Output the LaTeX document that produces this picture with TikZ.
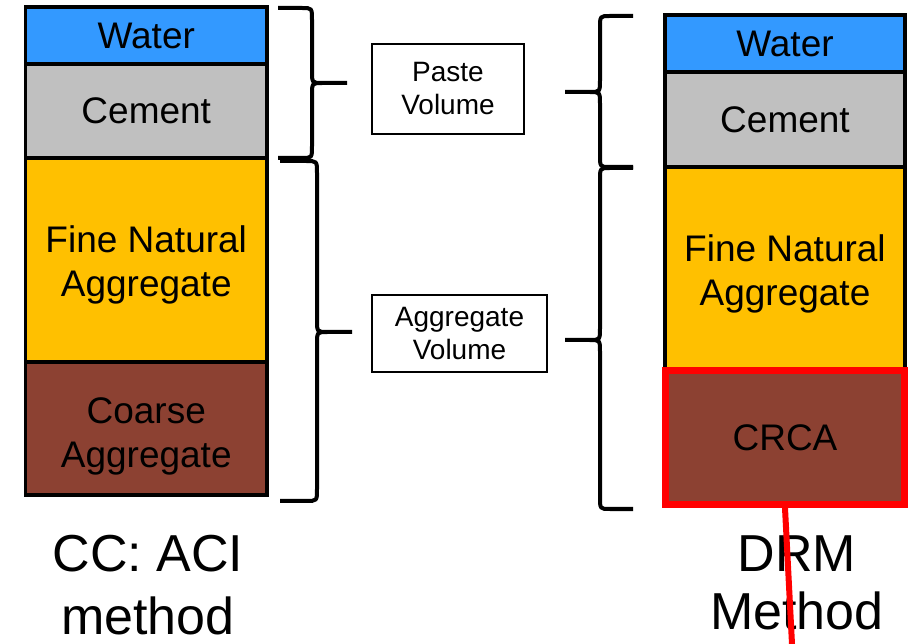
\documentclass[tikz,border=0pt]{standalone}
\usepackage{fontspec}
\setmainfont{Liberation Sans}
\definecolor{waterc}{HTML}{3399FF}
\definecolor{cementc}{HTML}{C0C0C0}
\definecolor{finec}{HTML}{FFC000}
\definecolor{coarsec}{HTML}{8C4132}
\definecolor{redc}{HTML}{FF0000}
\tikzset{
  layer/.style={draw=black, line width=3.5pt, inner sep=0pt, align=center,
    font=\fontsize{37}{44}\selectfont},
  lbl/.style={draw=black, line width=1.5pt, inner sep=0pt, align=center,
    font=\fontsize{28}{33}\selectfont},
  capt/.style={inner sep=0pt, align=center},
  bracestyle/.style={draw=black, line width=4pt, line join=miter},
}
\newcommand\lowr[1]{\rule{0pt}{#1}}
\newcommand\mybrace[6]{% x0 xv xt y0 ym y1
  \draw[bracestyle] (#1,#4) -- ({#2+(#1-#2)*0.3},#4) .. controls (#2,#4) .. (#2,#4+12)
    -- (#2,#5-12) .. controls (#2,#5) .. ({#2+(#3-#2)*0.3},#5) -- (#3,#5)
    -- ({#2+(#3-#2)*0.3},#5) .. controls (#2,#5) .. (#2,#5+12)
    -- (#2,#6-12) .. controls (#2,#6) .. ({#2+(#1-#2)*0.3},#6) -- (#1,#6);}
\begin{document}
\begin{tikzpicture}[x=1pt,y=-1pt]
\useasboundingbox (0,0) rectangle (922,644);
% left column
\node[layer, fill=waterc, minimum width=241.5pt, minimum height=57pt] (lw) at (146.25,35.5) {Water};
\node[layer, fill=cementc, minimum width=241.5pt, minimum height=94pt] (lc) at (146.25,111) {Cement};
\node[layer, fill=finec, minimum width=241.5pt, minimum height=204pt] (lf) at (146.25,260) {\lowr{37.5pt}Fine Natural\\Aggregate};
\node[layer, fill=coarsec, minimum width=241.5pt, minimum height=133pt] (lg) at (146.25,428.5) {\lowr{42.5pt}Coarse\\Aggregate};
% right column
\node[layer, fill=waterc, minimum width=240pt, minimum height=57pt] (rw) at (785,43.5) {Water};
\node[layer, fill=cementc, minimum width=240pt, minimum height=95pt] (rc) at (785,119.5) {Cement};
\node[layer, fill=finec, minimum width=240pt, minimum height=203pt] (rf) at (785,268.5) {\lowr{37.5pt}Fine Natural\\Aggregate};
\node[layer, draw=redc, line width=7pt, fill=coarsec, minimum width=239pt, minimum height=134pt] (rg) at (785,437.5) {CRCA};
% labels
\node[lbl, minimum width=152pt, minimum height=90pt] (paste) at (448,89) {Paste\\Volume};
\node[lbl, minimum width=175pt, minimum height=77pt] (aggr) at (459.5,333.5) {Aggregate\\Volume};
% braces
\mybrace{278}{312}{347}{8}{83}{158}
\mybrace{280}{317}{352}{161}{332}{501}
\mybrace{633}{600}{565}{16}{92}{167}
\mybrace{633}{600}{565}{168}{340}{509}
% captions
\node[capt, font=\fontsize{52}{63}\selectfont] (cc) at (148,585) {CC: ACI\\method};
\node[capt, font=\fontsize{52}{58}\selectfont] (drm) at (797,583) {DRM\\Method};
% red line
\coordinate (rend) at (792,644);
\draw[redc, line width=6pt] (rg.south) -- (rend);
\end{tikzpicture}
\end{document}
